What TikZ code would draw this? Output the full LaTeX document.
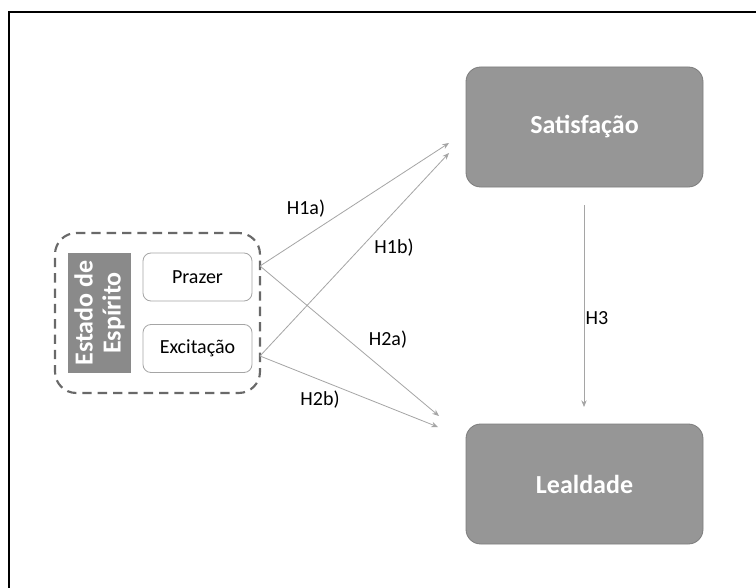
\documentclass[tikz,border=0pt]{standalone}
\usepackage{fontspec}
\setmainfont{Carlito}
\usetikzlibrary{arrows.meta}
\definecolor{boxgray}{RGB}{150,150,150}
\definecolor{boxedge}{RGB}{125,125,125}
\definecolor{labgray}{RGB}{138,138,138}
\definecolor{arrgray}{RGB}{165,165,165}
\definecolor{dashgray}{RGB}{105,105,105}
\tikzset{
  bigbox/.style={draw=boxedge, line width=0.6pt, fill=boxgray, rounded corners=11pt,
    minimum width=177.75pt, minimum height=90pt, text=white,
    font=\fontsize{19.5}{22}\selectfont\bfseries},
  smallbox/.style={draw=arrgray, line width=0.6pt, fill=white, rounded corners=6pt,
    minimum width=81.75pt, minimum height=36pt, font=\fontsize{15}{17}\selectfont},
  container/.style={draw=dashgray, line width=1.6pt, dash pattern=on 7pt off 4.5pt,
    rounded corners=16pt, minimum width=153.75pt, minimum height=120pt},
  labbox/.style={fill=labgray, minimum width=47.25pt, minimum height=90pt},
  hyparrow/.style={draw=arrgray, line width=0.6pt, -{Stealth[length=5pt,width=4pt]}},
  hyplabel/.style={font=\fontsize{15}{17}\selectfont, text=black}
}
\begin{document}
\begin{tikzpicture}[x=0.75pt,y=-0.75pt]
\useasboundingbox (0,0) rectangle (756,588);
\fill[white] (0,0) rectangle (756,588);
\draw[line width=1.8pt, black] (9,588) -- (9,12) -- (756,12);

\node[container] (cont) at (157.5,313) {};
\node[labbox] (estado) at (99.5,313) {};
\node[rotate=90, text=white, align=center, font=\fontsize{19.5}{21}\selectfont\bfseries] (estadotxt) at (99.5,313) {Estado de\\Espírito};
\node[smallbox] (prazer) at (197.5,277) {Prazer};
\node[smallbox] (excit) at (197.5,348.5) {Excitação};

\node[bigbox] (sat) at (584.5,127) {Satisfação};
\node[bigbox] (leal) at (584.5,484) {Lealdade};

\coordinate (s1) at (260,266);
\coordinate (s2) at (260,356);
\coordinate (t1) at (449,143);
\coordinate (t2) at (449,153);
\coordinate (t3) at (439,416);
\coordinate (t4) at (438,427);
\coordinate (h3a) at (584,205);
\coordinate (h3b) at (584,407);

\draw[hyparrow] (s1) -- (t1);
\draw[hyparrow] (s2) -- (t2);
\draw[hyparrow] (s1) -- (t3);
\draw[hyparrow] (s2) -- (t4);
\draw[hyparrow] (h3a) -- (h3b);

\node[hyplabel] (l1a) at (306,209) {H1a)};
\node[hyplabel] (l1b) at (394,248) {H1b)};
\node[hyplabel] (l2a) at (388,340) {H2a)};
\node[hyplabel] (l2b) at (320,400) {H2b)};
\node[hyplabel] (l3) at (597,318) {H3};
\end{tikzpicture}
\end{document}
